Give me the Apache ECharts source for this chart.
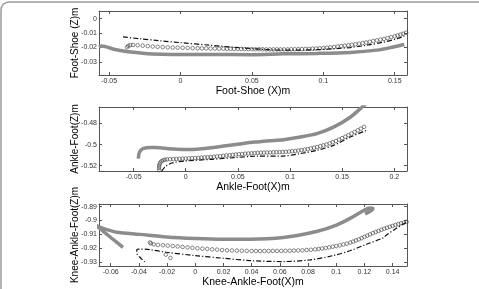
<!DOCTYPE html>
<html><head><meta charset="utf-8">
<script src="https://cdn.jsdelivr.net/npm/echarts@6/dist/echarts.min.js"></script>
<style>html,body{margin:0;padding:0;background:#fff}#c{width:479px;height:289px}</style>
</head><body><div id="c"></div>
<script>
// ---- Panel 1: Foot-Shoe ----
const p1XTicks = [-0.05, 0, 0.05, 0.1, 0.15];
const p1YTicks = [-0.03, -0.02, -0.01, 0];
const p1Gray = [[-0.0571,-0.0199],[-0.0552,-0.0190],[-0.0459,-0.0215],[-0.0366,-0.0231],[-0.0249,-0.0242],[-0.0132,-0.0247],[0.0001,-0.0249],[0.0219,-0.0249],[0.0499,-0.0251],[0.0718,-0.0245],[0.0955,-0.0242],[0.1188,-0.0235],[0.1375,-0.0219],[0.1492,-0.0197],[0.1567,-0.0180]];
const p1Circles = [[-0.0375,-0.0199],[-0.0366,-0.0190],[-0.0352,-0.0184],[-0.0332,-0.0183],[-0.0300,-0.0185],[-0.0265,-0.0188],[-0.0230,-0.0191],[-0.0195,-0.0194],[-0.0160,-0.0196],[-0.0125,-0.0198],[-0.0090,-0.0200],[-0.0055,-0.0201],[-0.0020,-0.0202],[0.0015,-0.0203],[0.0050,-0.0204],[0.0085,-0.0205],[0.0120,-0.0206],[0.0150,-0.0207],[0.0180,-0.0207],[0.0210,-0.0208],[0.0240,-0.0208],[0.0270,-0.0209],[0.0300,-0.0209],[0.0325,-0.0210],[0.0350,-0.0210],[0.0375,-0.0211],[0.0400,-0.0211],[0.0425,-0.0211],[0.0450,-0.0212],[0.0475,-0.0212],[0.0500,-0.0212],[0.0525,-0.0213],[0.0550,-0.0213],[0.0575,-0.0213],[0.0600,-0.0214],[0.0625,-0.0214],[0.0650,-0.0214],[0.0675,-0.0214],[0.0700,-0.0214],[0.0725,-0.0214],[0.0750,-0.0214],[0.0775,-0.0213],[0.0800,-0.0213],[0.0825,-0.0212],[0.0850,-0.0212],[0.0875,-0.0211],[0.0900,-0.0210],[0.0925,-0.0209],[0.0950,-0.0208],[0.0975,-0.0206],[0.1000,-0.0204],[0.1025,-0.0202],[0.1050,-0.0200],[0.1075,-0.0197],[0.1100,-0.0194],[0.1125,-0.0191],[0.1150,-0.0188],[0.1175,-0.0185],[0.1200,-0.0182],[0.1225,-0.0178],[0.1250,-0.0174],[0.1275,-0.0170],[0.1300,-0.0166],[0.1325,-0.0161],[0.1350,-0.0156],[0.1375,-0.0151],[0.1400,-0.0146],[0.1425,-0.0141],[0.1450,-0.0135],[0.1475,-0.0129],[0.1500,-0.0123],[0.1520,-0.0117],[0.1540,-0.0111],[0.1560,-0.0105],[0.1580,-0.0098]];
const p1DashDot = [[-0.0403,-0.0127],[-0.0284,-0.0140],[-0.0144,-0.0154],[0,-0.0167],[0.0207,-0.0185],[0.0487,-0.0208],[0.0718,-0.0219],[0.0955,-0.0216],[0.1188,-0.0201],[0.1305,-0.0185],[0.1419,-0.0164],[0.1515,-0.0140],[0.1567,-0.0122]];

// ---- Panel 2: Ankle-Foot ----
const p2XTicks = [-0.05, 0, 0.05, 0.1, 0.15, 0.2];
const p2YTicks = [-0.52, -0.5, -0.48];
const p2Gray = [[-0.0455,-0.5132],[-0.0450,-0.5095],[-0.0440,-0.5065],[-0.0422,-0.5044],[-0.0400,-0.5035],[-0.0374,-0.5030],[-0.0335,-0.5027],[-0.0295,-0.5027],[-0.0230,-0.5032],[-0.0167,-0.5038],[-0.0080,-0.5044],[0,-0.5047],[0.0154,-0.5038],[0.0346,-0.5016],[0.0538,-0.4991],[0.0665,-0.4976],[0.0800,-0.4964],[0.0937,-0.4953],[0.1100,-0.4928],[0.1258,-0.4896],[0.1417,-0.4834],[0.1578,-0.4740],[0.1690,-0.4645],[0.1750,-0.4592]];
const p2Circles = [[-0.0253,-0.5242],[-0.0256,-0.5222],[-0.0255,-0.5203],[-0.0251,-0.5185],[-0.0244,-0.5170],[-0.0232,-0.5157],[-0.0217,-0.5148],[-0.0200,-0.5143],[-0.0180,-0.5140],[-0.015,-0.5138],[-0.012,-0.5137],[-0.009,-0.5136],[-0.006,-0.5135],[-0.003,-0.5133],[0,-0.5132],[0.003,-0.5130],[0.006,-0.5129],[0.009,-0.5127],[0.012,-0.5125],[0.015,-0.5123],[0.018,-0.5121],[0.021,-0.5119],[0.024,-0.5117],[0.027,-0.5115],[0.030,-0.5112],[0.033,-0.5109],[0.036,-0.5106],[0.039,-0.5103],[0.042,-0.5100],[0.045,-0.5097],[0.048,-0.5094],[0.051,-0.5091],[0.054,-0.5089],[0.057,-0.5086],[0.060,-0.5084],[0.063,-0.5082],[0.066,-0.5080],[0.069,-0.5078],[0.072,-0.5077],[0.075,-0.5076],[0.078,-0.5075],[0.081,-0.5074],[0.084,-0.5073],[0.087,-0.5072],[0.090,-0.5071],[0.093,-0.5070],[0.096,-0.5068],[0.099,-0.5066],[0.102,-0.5063],[0.105,-0.5060],[0.108,-0.5056],[0.111,-0.5052],[0.114,-0.5047],[0.117,-0.5042],[0.120,-0.5036],[0.123,-0.5030],[0.126,-0.5023],[0.129,-0.5015],[0.132,-0.5007],[0.135,-0.4998],[0.138,-0.4988],[0.141,-0.4977],[0.144,-0.4965],[0.147,-0.4952],[0.150,-0.4939],[0.153,-0.4925],[0.156,-0.4910],[0.159,-0.4895],[0.162,-0.4880],[0.165,-0.4864],[0.168,-0.4848],[0.171,-0.4832]];
const p2DashDot = [[-0.0230,-0.5252],[-0.0199,-0.5211],[-0.0134,-0.5174],[0,-0.5155],[0.0250,-0.5139],[0.0473,-0.5123],[0.0665,-0.5110],[0.0937,-0.5108],[0.1097,-0.5085],[0.1258,-0.5054],[0.1417,-0.5007],[0.1578,-0.4928],[0.1731,-0.4865]];

// ---- Panel 3: Knee-Ankle-Foot ----
const p3XTicks = [-0.06, -0.04, -0.02, 0, 0.02, 0.04, 0.06, 0.08, 0.1, 0.12, 0.14];
const p3YTicks = [-0.93, -0.92, -0.91, -0.9, -0.89];
const p3Gray = [[-0.0513,-0.9194],[-0.0593,-0.9128],[-0.0685,-0.9051],[-0.0706,-0.9036],[-0.0678,-0.9047],[-0.0621,-0.9068],[-0.0559,-0.9084],[-0.0394,-0.9100],[-0.0204,-0.9119],[0.0001,-0.9130],[0.0197,-0.9135],[0.0387,-0.9135],[0.0623,-0.9123],[0.0860,-0.9079],[0.1002,-0.9033],[0.1120,-0.8973],[0.1191,-0.8930],[0.1239,-0.8909],[0.1260,-0.8913],[0.1246,-0.8930],[0.1204,-0.8952]];
const p3Circles = [[0.1499,-0.9010],[0.1480,-0.9015],[0.1460,-0.9020],[0.1440,-0.9026],[0.1420,-0.9032],[0.1400,-0.9039],[0.1380,-0.9045],[0.1360,-0.9052],[0.1340,-0.9059],[0.1320,-0.9067],[0.1300,-0.9075],[0.1280,-0.9083],[0.1260,-0.9091],[0.1240,-0.9100],[0.1220,-0.9109],[0.1200,-0.9118],[0.1180,-0.9127],[0.1160,-0.9136],[0.1140,-0.9144],[0.1120,-0.9152],[0.1100,-0.9159],[0.1075,-0.9167],[0.1050,-0.9173],[0.1025,-0.9179],[0.1000,-0.9184],[0.0975,-0.9189],[0.0950,-0.9194],[0.0925,-0.9198],[0.0900,-0.9202],[0.0875,-0.9205],[0.0850,-0.9208],[0.0820,-0.9211],[0.0790,-0.9213],[0.0760,-0.9215],[0.0730,-0.9216],[0.0700,-0.9217],[0.0670,-0.9218],[0.0640,-0.9218],[0.0610,-0.9219],[0.0580,-0.9219],[0.0550,-0.9219],[0.0520,-0.9220],[0.0490,-0.9220],[0.0460,-0.9220],[0.0430,-0.9220],[0.0400,-0.9220],[0.0365,-0.9219],[0.0330,-0.9218],[0.0295,-0.9217],[0.0260,-0.9216],[0.0225,-0.9215],[0.0190,-0.9213],[0.0155,-0.9210],[0.0120,-0.9208],[0.0085,-0.9205],[0.0050,-0.9203],[0.0015,-0.9200],[-0.0020,-0.9197],[-0.0055,-0.9194],[-0.0090,-0.9191],[-0.0125,-0.9187],[-0.0160,-0.9184],[-0.0195,-0.9181],[-0.0230,-0.9178],[-0.0265,-0.9176],[-0.0295,-0.9172],[-0.0315,-0.9165],[-0.0322,-0.9158],[-0.0209,-0.9246],[-0.0176,-0.9270]];
const p3DashDot = [[0.1495,-0.9015],[0.1424,-0.9058],[0.1357,-0.9104],[0.1333,-0.9125],[0.1215,-0.9171],[0.1097,-0.9218],[0.0978,-0.9253],[0.0813,-0.9284],[0.0623,-0.9296],[0.0387,-0.9289],[0.0197,-0.9272],[0.0001,-0.9253],[-0.0204,-0.9229],[-0.0323,-0.9210],[-0.0394,-0.9206],[-0.0415,-0.9210],[-0.0415,-0.9234],[-0.0394,-0.9263],[-0.0359,-0.9298]];

const panels = [
  {x:[-0.0571,0.1586], y:[-0.0392,0.0053], xt:p1XTicks, yt:p1YTicks, xn:'Foot-Shoe (X)m', yn:'Foot-Shoe (Z)m', g:p1Gray, c:p1Circles, d:p1DashDot, top:11, h:64},
  {x:[-0.0832,0.2122], y:[-0.525,-0.4643], xt:p2XTicks, yt:p2YTicks, xn:'Ankle-Foot(X)m', yn:'Ankle-Foot(Z)m', g:p2Gray, c:p2Circles, d:p2DashDot, top:107, h:64},
  {x:[-0.0683,0.1502], y:[-0.9328,-0.8881], xt:p3XTicks, yt:p3YTicks, xn:'Knee-Ankle-Foot(X)m', yn:'Knee-Ankle-Foot(Z)m', g:p3Gray, c:p3Circles, d:p3DashDot, top:204, h:63}
];

const FONT = 'Liberation Sans, Arial, sans-serif';
const AX = '#555';
const grid = [], xAxis = [], yAxis = [], series = [];
panels.forEach((p, i) => {
  grid.push({left:99, top:p.top, width:308, height:p.h});
  const common = {type:'value', gridIndex:i, splitLine:{show:false}};
  xAxis.push(Object.assign({}, common, {
    min:p.x[0], max:p.x[1], position:'bottom',
    axisLine:{show:true, onZero:false, lineStyle:{color:AX, width:1}},
    axisTick:{show:true, inside:true, length:3, customValues:p.xt, lineStyle:{color:AX}},
    axisLabel:{show:true, customValues:p.xt, fontSize:7, color:'#333', margin:3, fontFamily:FONT},
    name:p.xn, nameLocation:'middle', nameGap:11,
    nameTextStyle:{fontSize:10.5, color:'#000', fontFamily:FONT}
  }));
  xAxis.push(Object.assign({}, common, {
    min:p.x[0], max:p.x[1], position:'top',
    axisLine:{show:true, onZero:false, lineStyle:{color:AX, width:1}},
    axisTick:{show:true, inside:true, length:3, customValues:p.xt, lineStyle:{color:AX}},
    axisLabel:{show:false}
  }));
  yAxis.push(Object.assign({}, common, {
    min:p.y[0], max:p.y[1], position:'left',
    axisLine:{show:true, onZero:false, lineStyle:{color:AX, width:1}},
    axisTick:{show:true, inside:true, length:3, customValues:p.yt, lineStyle:{color:AX}},
    axisLabel:{show:true, customValues:p.yt, fontSize:7, color:'#333', margin:2, fontFamily:FONT},
    name:p.yn, nameLocation:'middle', nameGap:19, nameRotate:90, nameMoveOverlap:false,
    nameTextStyle:{fontSize:10, color:'#000', fontFamily:FONT}
  }));
  yAxis.push(Object.assign({}, common, {
    min:p.y[0], max:p.y[1], position:'right',
    axisLine:{show:true, onZero:false, lineStyle:{color:AX, width:1}},
    axisTick:{show:true, inside:true, length:3, customValues:p.yt, lineStyle:{color:AX}},
    axisLabel:{show:false}
  }));
  const xi = 2*i, yi = 2*i;
  series.push({type:'line', xAxisIndex:xi, yAxisIndex:yi, data:p.g, showSymbol:false, smooth:0.3, clip:true,
    lineStyle:{color:'#8c8c8c', width:3.5}, z:2});
  series.push({type:'scatter', xAxisIndex:xi, yAxisIndex:yi, data:p.c, symbol:'circle', symbolSize:3.6, clip:true,
    itemStyle:{color:'rgba(255,255,255,0)', borderColor:'#444', borderWidth:0.8}, z:3});
  series.push({type:'line', xAxisIndex:xi, yAxisIndex:yi, data:p.d, showSymbol:false, smooth:0.3, clip:true,
    lineStyle:{color:'#111', width:1.2, type:[5,2,1.2,2]}, z:4});
});

const chart = echarts.init(document.getElementById('c'), null, {renderer:'canvas'});
chart.setOption({
  animation:false,
  backgroundColor:'#fff',
  graphic:[{type:'rect', shape:{x:1, y:2, width:560, height:360, r:8}, style:{fill:'none', stroke:'#9a9a9a', lineWidth:1.5}, silent:true}],
  grid, xAxis, yAxis, series
});
</script>
</body></html>
